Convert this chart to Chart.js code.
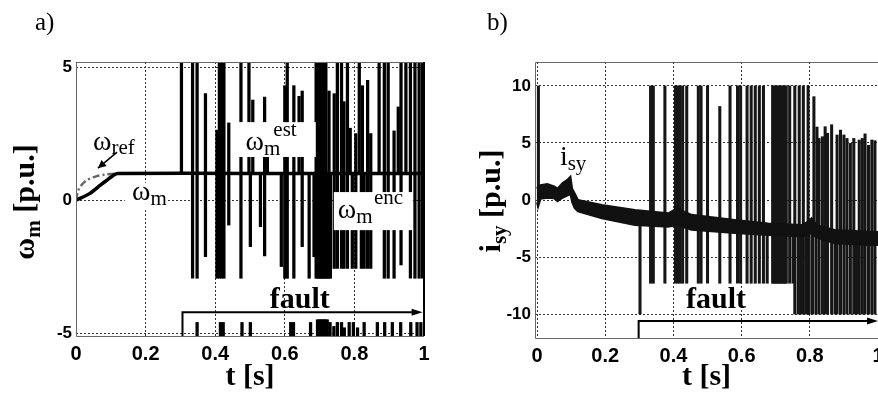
<!DOCTYPE html>
<html><head><meta charset="utf-8">
<script src="https://cdn.jsdelivr.net/npm/chart.js@4.4.1/dist/chart.umd.min.js"></script>
<style>
html,body{margin:0;padding:0;background:#fff;overflow:hidden;}
#wrap{position:relative;width:878px;height:397px;overflow:hidden;background:#fff;}
#cA{position:absolute;left:0;top:0;}
#cB{position:absolute;left:440px;top:0;}
.lbl{position:absolute;font-family:'Liberation Serif','Times New Roman',serif;font-size:25px;line-height:25px;color:#000;}
</style></head><body>
<div id="wrap">
<canvas id="cA" width="440" height="397"></canvas>
<canvas id="cB" width="460" height="397"></canvas>
<div class="lbl" style="left:35px;top:9px">a)</div>
<div class="lbl" style="left:487px;top:9px">b)</div>
</div>
<script>
// ---------- tick values / labels ----------
const xTicks = [0, 0.2, 0.4, 0.6, 0.8, 1];
const xTickLabels = ['0', '0.2', '0.4', '0.6', '0.8', '1'];
const yTicksA = [-5, 0, 5];
const yTickLabelsA = ['-5', '0', '5'];
const yTicksB = [-10, -5, 0, 5, 10];
const yTickLabelsB = ['-10', '-5', '0', '5', '10'];

// ---------- panel a) speed ----------
const refT = [0, 0.005, 0.012, 0.031, 0.06, 0.085, 0.112, 0.2];
const refV = [0, 0.3, 0.5, 0.75, 0.9, 0.96, 0.99, 1.0];
const wmT = [0, 0.015, 0.04, 0.07, 0.09, 0.11, 0.12, 0.5, 1.0];
const wmV = [0, 0.08, 0.25, 0.56, 0.76, 0.95, 1.0, 1.0, 1.0];
// estimator spikes: time, lower end, upper end
const spkAT  = [0.303, 0.335, 0.348, 0.372, 0.405, 0.412, 0.418, 0.425, 0.439, 0.474, 0.497, 0.501, 0.508, 0.530, 0.542, 0.550, 0.590, 0.600, 0.607, 0.626, 0.641, 0.650, 0.670, 0.684,
                0.690, 0.694, 0.698, 0.702, 0.706, 0.710, 0.714, 0.718, 0.722, 0.727, 0.731,
                0.742, 0.751, 0.763, 0.770, 0.780, 0.788, 0.794, 0.804, 0.814, 0.820, 0.823, 0.828, 0.838, 0.847, 0.871, 0.886, 0.897, 0.914, 0.926, 0.934, 0.948, 0.961, 0.974, 0.986, 0.996];
const spkALo = [1, -2.94, -2.94, -2.13, -2.94, -2.94, -2.94, -2.94, -0.94, -2.94, 1, -1.75, 1, -1.0, -2.1, 1, -2.5, -2.94, -2.94, -2.94, 1, -1.75, -2.94, -2.13,
                -2.94, -2.94, -2.94, -2.94, -2.94, -2.94, -2.94, -2.94, -2.94, -2.94, -2.94,
                -2.57, -2.57, -2.57, -2.57, -2.57, 1, -2.57, -2.57, 1, -2.57, 1, -2.57, -2.57, -2.57, 1, -2.94, -2.94, -2.94, 1, -2.44, 1, -2.94, -2.94, -2.94, -2.94];
const spkAHi = [5.2, 5.2, 5.2, 4.0, 2.63, 5.2, 5.2, 5.2, 2.9, 5.2, 5.2, 1, 3.76, 1, 3.87, 2.8, 1, 4.3, 5.2, 4.3, 3.9, 4.1, 1, 1,
                5.2, 5.2, 5.2, 5.2, 5.2, 5.2, 5.2, 5.2, 1, 4.1, 1,
                4.0, 5.2, 5.2, 3.7, 5.2, 2.7, 1, 2.5, 5.2, 1, 4.3, 1, 4.5, 2.5, 5.2, 5.2, 5.2, 2.6, 3.5, 5.2, 5.2, 5.2, 5.2, 5.2, 5.2];
// short spikes near the lower limit
const botAT  = [0.348, 0.415, 0.423, 0.477, 0.501, 0.617, 0.625, 0.674, 0.694, 0.698, 0.702, 0.706, 0.710, 0.714, 0.718, 0.722, 0.730, 0.741, 0.751, 0.763, 0.771, 0.785, 0.797, 0.809, 0.828, 0.866, 0.887, 0.909, 0.933, 0.962, 0.980, 0.991];
const botALo = [-5.2, -5.2, -5.2, -5.2, -5.2, -5.2, -5.2, -5.2, -5.2, -5.2, -5.2, -5.2, -5.2, -5.2, -5.2, -5.2, -5.2, -5.2, -5.2, -5.2, -5.2, -5.2, -5.2, -5.2, -5.2, -5.2, -5.2, -5.2, -5.2, -5.2, -5.2, -5.2];
const botAHi = [-4.6, -4.6, -4.6, -4.6, -4.6, -4.6, -4.6, -4.6, -4.5, -4.5, -4.5, -4.5, -4.5, -4.5, -4.5, -4.5, -4.6, -4.75, -4.6, -4.6, -4.8, -4.6, -4.6, -4.8, -4.6, -4.6, -4.6, -4.6, -4.6, -4.6, -4.6, -4.6];

// ---------- panel b) current ----------
const bandT  = [0.0, 0.003, 0.01, 0.03, 0.05, 0.06, 0.075, 0.09, 0.098, 0.103, 0.11, 0.12, 0.19, 0.287, 0.385, 0.41, 0.453, 0.58, 0.678, 0.776, 0.795, 0.805, 0.82, 0.873, 0.971, 1.0];
const bandHi = [1.0, 1.17, 1.3, 1.4, 1.2, 1.0, 1.5, 1.8, 2.05, 1.0, 0.6, 0.0, -0.44, -0.88, -1.17, -0.73, -1.3, -1.75, -2.05, -2.2, -1.9, -1.6, -2.2, -2.63, -2.78, -2.8];
const bandLo = [-0.2, -0.6, 0.1, 0.2, 0.15, -0.1, 0.2, 0.4, 0.5, -0.2, -0.7, -1.0, -1.6, -2.2, -2.34, -2.2, -2.6, -2.9, -3.07, -3.2, -3.0, -2.9, -3.3, -3.8, -3.95, -3.95];
const spkBT  = [0.004, 0.302, 0.333, 0.341, 0.375, 0.406, 0.412, 0.419, 0.427, 0.439, 0.473, 0.481, 0.500, 0.536, 0.566, 0.588, 0.597, 0.616, 0.628, 0.640, 0.652, 0.664, 0.675,
                0.691, 0.695, 0.699, 0.703, 0.707, 0.711, 0.715, 0.719, 0.723, 0.727, 0.731,
                0.741, 0.751, 0.756, 0.766, 0.769, 0.773, 0.781, 0.789, 0.795, 0.798, 0.808, 0.812, 0.818, 0.821, 0.827, 0.837, 0.845, 0.852, 0.864, 0.874, 0.880, 0.890, 0.900, 0.909, 0.919, 0.929, 0.937, 0.945, 0.954, 0.962, 0.972, 0.982, 0.991];
const spkBLo = [0, -10, -7.3, -7.3, -7.3, -7.3, -7.3, -7.3, -7.3, -7.3, -7.3, -7.3, -7.3, -7.3, -7.3, -7.3, -7.3, -7.3, -7.3, -7.3, -7.3, -7.3, -7.3,
                -7.3, -7.3, -7.3, -7.3, -7.3, -7.3, -7.3, -7.3, -7.3, -7.3, -7.3,
                -7.3, -7.3, -10, -10, -3.0, -10, -10, -10, -10, -10, -10, -2.6, -10, -2.8, -10, -10, -10, -10, -10, -10, -10, -10, -10, -10, -10, -10, -10, -10, -10, -10, -10, -10, -10];
const spkBHi = [10, -2.0, 10, 10, 10, 10, 10, 10, 10, 10, 10, 10, 10, 8.2, 10, 10, 10, 10, 10, 10, 10, 10, -2.8,
                10, 10, 10, 10, 10, 10, 10, 10, 10, 10, 10,
                10, -3.0, 10, -3.0, 10, -3.0, 10, -2.8, 10, -2.8, -2.6, 9.06, -2.6, 6.4, 5.4, 5.55, 6.43, 5.85, 6.6, -3.2, 5.7, 6.14, 5.7, 5.4, 4.97, 5.4, -3.2, 5.26, 5.4, 5.8, 4.8, 5.26, 5.2];

// ---------- helpers ----------
const SANS = "'Liberation Sans', Arial, sans-serif";
const SERIF = "'Liberation Serif', 'Times New Roman', serif";
const pts = (T, V) => T.map((t, i) => ({x: t, y: V[i]}));
const bars = (T, L, H) => T.map((t, i) => ({x: t, y: [L[i], H[i]]}));

function xScale(min, height) {
  return {
    type: 'linear', min: min, max: 1, offset: false,
    afterBuildTicks: s => { s.ticks = xTicks.map(v => ({value: v})); },
    afterFit: s => { s.height = height; },
    grid: {color: '#333', lineWidth: 1, drawTicks: false, offset: false},
    border: {display: false, dash: [2, 2]},
    ticks: {padding: 6, color: '#000', maxRotation: 0, autoSkip: false,
      font: {family: SANS, size: 20, weight: 'bold'},
      callback: (v, i) => xTickLabels[i]},
    title: {display: true, text: 't [s]', color: '#000',
      font: {family: SERIF, size: 30, weight: 'bold'}, padding: {top: 0, bottom: 2}}
  };
}
function yScale(min, max, ticks, labels, width) {
  return {
    type: 'linear', min: min, max: max,
    afterBuildTicks: s => { s.ticks = ticks.map(v => ({value: v})); },
    afterFit: s => { s.width = width; },
    grid: {color: '#333', lineWidth: 1, drawTicks: false},
    border: {display: false, dash: [2, 2]},
    ticks: {padding: 4, color: '#000', font: {family: SANS, size: 17, weight: 'bold'},
      callback: (v, i) => labels[i]}
  };
}
function rich(ctx, x, y, parts, center) {
  let w = 0;
  for (const p of parts) { ctx.font = p.f; w += ctx.measureText(p.s).width + (p.gap || 0); }
  let cx = center ? x - w / 2 : x;
  for (const p of parts) {
    ctx.font = p.f;
    if (p.at !== undefined) cx = x + p.at;
    ctx.fillText(p.s, cx, y + (p.dy || 0));
    cx += ctx.measureText(p.s).width + (p.gap || 0);
  }
}
function arrowHead(ctx, x1, y1, x2, y2, len, half) {
  const a = Math.atan2(y2 - y1, x2 - x1);
  ctx.beginPath();
  ctx.moveTo(x2, y2);
  ctx.lineTo(x2 - len * Math.cos(a) + half * Math.sin(a), y2 - len * Math.sin(a) - half * Math.cos(a));
  ctx.lineTo(x2 - len * Math.cos(a) - half * Math.sin(a), y2 - len * Math.sin(a) + half * Math.cos(a));
  ctx.closePath(); ctx.fill();
}
function frame(ctx, a, rightCol) {
  ctx.save();
  ctx.strokeStyle = '#666'; ctx.lineWidth = 1;
  ctx.beginPath();
  ctx.moveTo(a.right, a.top + 0.5); ctx.lineTo(a.left + 0.5, a.top + 0.5);
  ctx.lineTo(a.left + 0.5, a.bottom + 0.5); ctx.lineTo(a.right, a.bottom + 0.5);
  ctx.stroke();
  if (rightCol) {
    ctx.strokeStyle = rightCol; ctx.lineWidth = 2;
    ctx.beginPath(); ctx.moveTo(a.right, a.top); ctx.lineTo(a.right, a.bottom); ctx.stroke();
  }
  ctx.restore();
}

// ---------- chart a ----------
const decorA = {
  id: 'decorA',
  afterDatasetsDraw(chart) {
    const {ctx, chartArea: a, scales: {x, y}} = chart;
    const X = v => x.getPixelForValue(v), Y = v => y.getPixelForValue(v);
    const fN = sz => sz + 'px ' + SERIF;
    ctx.save();
    // white label backgrounds
    ctx.fillStyle = '#fff';
    ctx.fillRect(X(0.464), Y(2.93), X(0.689) - X(0.464), Y(1.62) - Y(2.93));
    ctx.fillRect(X(0.741), Y(0.30), X(0.968) - X(0.741), Y(-1.13) - Y(0.30));
    ctx.fillRect(X(0.14), Y(0.65), X(0.26) - X(0.14), Y(-0.35) - Y(0.65));
    ctx.fillStyle = '#000'; ctx.textBaseline = 'alphabetic'; ctx.textAlign = 'left';
    // omega_ref
    rich(ctx, X(0.049), Y(1.88), [{s: 'ω', f: fN(28)}, {s: 'ref', f: fN(21), dy: 4}]);
    ctx.strokeStyle = '#000'; ctx.lineWidth = 1.5;
    ctx.beginPath(); ctx.moveTo(X(0.118), Y(1.80)); ctx.lineTo(X(0.063), Y(1.20)); ctx.stroke();
    arrowHead(ctx, X(0.118), Y(1.80), X(0.063), Y(1.20), 8, 4);
    // omega_m
    rich(ctx, X(0.161), Y(0.0), [{s: 'ω', f: fN(28)}, {s: 'm', f: fN(21), dy: 5}]);
    // omega_m est
    rich(ctx, X(0.487), Y(1.88), [{s: 'ω', f: fN(28)}, {s: 'm', f: fN(21), dy: 5}, {s: 'est', f: fN(21), at: X(0.567) - X(0.487), dy: -14}]);
    // omega_m enc
    rich(ctx, X(0.752), Y(-0.68), [{s: 'ω', f: fN(28)}, {s: 'm', f: fN(21), dy: 5}, {s: 'enc', f: fN(21), at: X(0.856) - X(0.752), dy: -14}]);
    // fault
    ctx.font = 'bold 30px ' + SERIF; ctx.textAlign = 'center';
    ctx.fillText('fault', X(0.643), Y(-4.06));
    ctx.lineWidth = 2;
    ctx.beginPath(); ctx.moveTo(X(0.306), a.bottom); ctx.lineTo(X(0.306), Y(-4.22)); ctx.lineTo(X(0.975), Y(-4.22)); ctx.stroke();
    arrowHead(ctx, X(0.96), Y(-4.22), X(0.996), Y(-4.22), 11, 3.5);
    ctx.restore();
    frame(ctx, a, '#000');
  },
  afterDraw(chart) {
    const ctx = chart.ctx;
    ctx.save();
    ctx.translate(34, 202); ctx.rotate(-Math.PI / 2);
    ctx.fillStyle = '#000'; ctx.textBaseline = 'alphabetic';
    rich(ctx, 0, 0, [{s: 'ω', f: 'bold 30px ' + SERIF}, {s: 'm', f: 'bold 21px ' + SERIF, dy: 6}, {s: ' [p.u.]', f: 'bold 30px ' + SERIF}], true);
    ctx.restore();
  }
};

new Chart(document.getElementById('cA'), {
  type: 'bar',
  data: {
    datasets: [
      {type: 'line', label: 'ω_ref', data: pts(refT, refV), borderColor: '#666', borderWidth: 2.5,
       borderDash: [7, 3, 2, 3], pointRadius: 0, tension: 0.3, order: 1},
      {type: 'line', label: 'ω_m', data: pts(wmT, wmV), borderColor: '#000', borderWidth: 3.5,
       pointRadius: 0, tension: 0.2, order: 0},
      {type: 'bar', label: 'ω_m est spikes', data: bars(spkAT, spkALo, spkAHi), backgroundColor: '#000',
       barThickness: 2.6, grouped: false, clip: 0, order: 3},
      {type: 'bar', label: 'ω_m enc', data: bars(botAT, botALo, botAHi), backgroundColor: '#000',
       barThickness: 2.6, grouped: false, clip: 0, order: 3}
    ]
  },
  options: {
    responsive: false, animation: false, devicePixelRatio: 1,
    layout: {padding: {left: 0, right: 16, top: 62, bottom: 0}, autoPadding: false},
    plugins: {legend: {display: false}, tooltip: {enabled: false}},
    scales: {x: xScale(0, 61), y: yScale(-5.11, 5.19, yTicksA, yTickLabelsA, 76)}
  },
  plugins: [decorA]
});

// ---------- chart b ----------
const decorB = {
  id: 'decorB',
  afterDatasetsDraw(chart) {
    const {ctx, chartArea: a, scales: {x, y}} = chart;
    const X = v => x.getPixelForValue(v), Y = v => y.getPixelForValue(v);
    const fN = sz => sz + 'px ' + SERIF;
    ctx.save();
    ctx.fillStyle = '#000'; ctx.textBaseline = 'alphabetic'; ctx.textAlign = 'left';
    rich(ctx, X(0.067), Y(3.07), [{s: 'i', f: fN(28)}, {s: 'sy', f: fN(21), dy: 5}]);
    ctx.font = 'bold 30px ' + SERIF; ctx.textAlign = 'center';
    ctx.fillText('fault', X(0.525), Y(-9.5));
    ctx.strokeStyle = '#000'; ctx.lineWidth = 2;
    ctx.beginPath(); ctx.moveTo(X(0.298), a.bottom); ctx.lineTo(X(0.298), Y(-10.6)); ctx.lineTo(X(0.98), Y(-10.6)); ctx.stroke();
    arrowHead(ctx, X(0.96), Y(-10.6), X(1.0), Y(-10.6), 11, 3.5);
    ctx.restore();
    frame(ctx, a, null);
  },
  afterDraw(chart) {
    const ctx = chart.ctx;
    ctx.save();
    ctx.translate(60, 201); ctx.rotate(-Math.PI / 2);
    ctx.fillStyle = '#000'; ctx.textBaseline = 'alphabetic';
    rich(ctx, 0, 0, [{s: 'i', f: 'bold 30px ' + SERIF}, {s: 'sy', f: 'bold 21px ' + SERIF, dy: 6}, {s: ' [p.u.]', f: 'bold 30px ' + SERIF}], true);
    ctx.restore();
  }
};

new Chart(document.getElementById('cB'), {
  type: 'bar',
  data: {
    datasets: [
      {type: 'line', label: 'i_sy upper', data: pts(bandT, bandHi), borderColor: '#111', borderWidth: 2,
       pointRadius: 0, fill: false, order: 1},
      {type: 'line', label: 'i_sy lower', data: pts(bandT, bandLo), borderColor: '#111', borderWidth: 2,
       backgroundColor: '#111', pointRadius: 0, fill: '-1', order: 1},
      {type: 'bar', label: 'i_sy spikes', data: bars(spkBT, spkBLo, spkBHi), backgroundColor: '#161616',
       barThickness: 2.4, grouped: false, clip: 0, order: 3}
    ]
  },
  options: {
    responsive: false, animation: false, devicePixelRatio: 1,
    layout: {padding: {left: 0, right: 22, top: 62, bottom: 0}, autoPadding: false},
    plugins: {legend: {display: false}, tooltip: {enabled: false}, filler: {propagate: false}},
    scales: {x: xScale(-0.006, 59), y: yScale(-12.1, 12.1, yTicksB, yTickLabelsB, 95)}
  },
  plugins: [decorB]
});
</script>
</body></html>
